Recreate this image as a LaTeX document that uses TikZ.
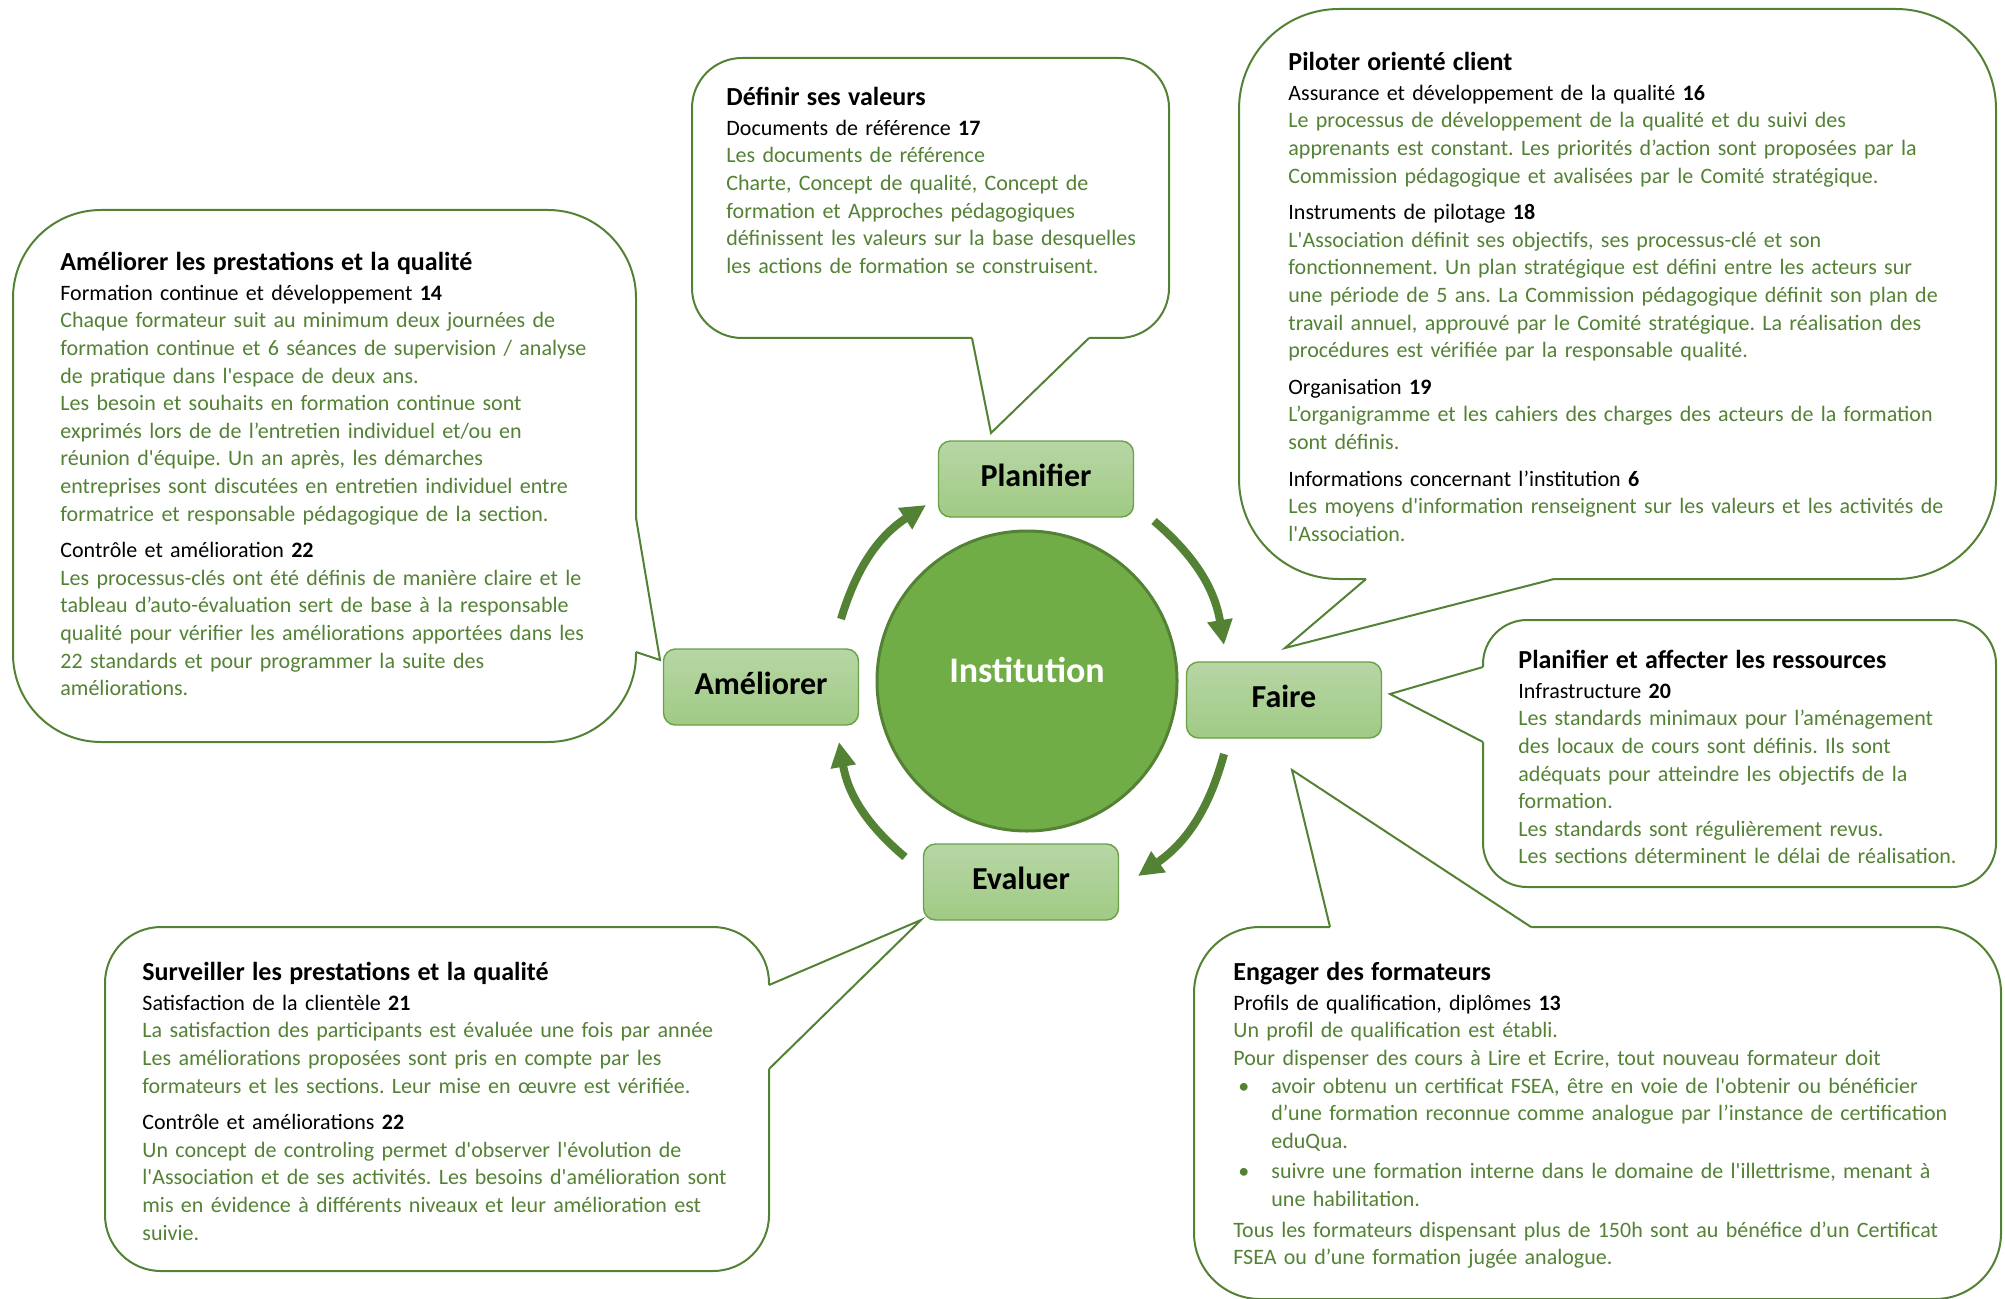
\documentclass[tikz,border=0pt]{standalone}
\usepackage{fontspec}
\setmainfont{Carlito}[Ligatures=TeXOff]
\usepackage{tikz}
\usetikzlibrary{positioning,arrows.meta}
\frenchspacing

\definecolor{vert}{RGB}{84,130,53}
\definecolor{vertclair}{RGB}{112,173,71}
\definecolor{boxtop}{RGB}{183,214,165}
\definecolor{boxbot}{RGB}{160,202,132}
\definecolor{boxline}{RGB}{106,160,72}

\newcommand{\titre}[1]{{\color{black}\fontsize{13}{15}\selectfont\bfseries #1}}
\newcommand{\rubrique}[2]{{\color{black}#1 \textbf{#2}}}

\begin{document}
\begin{tikzpicture}[x=0.5pt,y=-0.5pt,
	bulle/.style={draw=vert, line width=1pt, fill=white, anchor=north west, inner sep=0pt, outer sep=0pt},
	pointe/.style={draw=vert, line width=1pt, line join=miter},
	texte/.style={anchor=north west, inner sep=0pt, align=left, text width=#1, text=vert, font=\fontsize{11}{13.8}\selectfont},
	etape/.style={rectangle, rounded corners=6pt, draw=boxline, line width=0.7pt, top color=boxtop, bottom color=boxbot, minimum width=97.5pt, minimum height=38pt, text height=11.5pt, text depth=4pt, font=\fontsize{16}{19}\selectfont\bfseries},
	fleche/.style={draw=vert, line width=4pt, -{Triangle[length=12.5pt,width=12pt]}}]
\useasboundingbox (0,0) rectangle (2005,1299);

\node[bulle, rounded corners=25pt, minimum width=238.5pt, minimum height=140pt] (valeurs) at (692,58) {};
\coordinate (v1) at (972,338);
\coordinate (v2) at (1089,338);
\coordinate (vt) at (991,433);
\fill[white] (v1) -- (vt) -- (v2) -- ++(0,-4) -| (v1) -- cycle;
\draw[pointe] (v1) -- (vt) -- (v2);
\node[texte=225pt, below right=14.5pt and 17pt of valeurs.north west] (tvaleurs) {
	\titre{Définir ses valeurs}\\[1pt]
	\rubrique{Documents de référence}{17}\\
	Les documents de référence\\
	Charte, Concept de qualité, Concept de\\
	formation et Approches pédagogiques\\
	définissent les valeurs sur la base desquelles\\
	les actions de formation se construisent.};

\node[bulle, rounded corners=50pt, minimum width=378.5pt, minimum height=285pt] (pilot) at (1239,9) {};
\coordinate (c1) at (1366,579);
\coordinate (c2) at (1554,579);
\coordinate (ct) at (1285,648);
\fill[white] (c1) -- (ct) -- (c2) -- ++(0,-4) -| (c1) -- cycle;
\draw[pointe] (c1) -- (ct) -- (c2);
\node[texte=350pt, below right=21.5pt and 24.5pt of pilot.north west] (tpilot) {
	\titre{Piloter orienté client}\\[1pt]
	\rubrique{Assurance et développement de la qualité}{16}\\
	Le processus de développement de la qualité et du suivi des\\
	apprenants est constant. Les priorités d’action sont proposées par la\\
	Commission pédagogique et avalisées par le Comité stratégique.\\[4.5pt]
	\rubrique{Instruments de pilotage}{18}\\
	L'Association définit ses objectifs, ses processus-clé et son\\
	fonctionnement. Un plan stratégique est défini entre les acteurs sur\\
	une période de 5 ans. La Commission pédagogique définit son plan de\\
	travail annuel, approuvé par le Comité stratégique. La réalisation des\\
	procédures est vérifiée par la responsable qualité.\\[4.5pt]
	\rubrique{Organisation}{19}\\
	L’organigramme et les cahiers des charges des acteurs de la formation\\
	sont définis.\\[4.5pt]
	\rubrique{Informations concernant l’institution}{6}\\
	Les moyens d'information renseignent sur les valeurs et les activités de\\
	l'Association.};

\node[bulle, rounded corners=44pt, minimum width=311.5pt, minimum height=266pt] (amelq) at (13,210) {};
\coordinate (a1) at (636,518);
\coordinate (a2) at (636,652);
\coordinate (at) at (660,660);
\fill[white] (a1) -- (at) -- (a2) -- ++(-4,0) |- (a1) -- cycle;
\draw[pointe] (a1) -- (at) -- (a2);
\node[texte=285pt, below right=21pt and 23.5pt of amelq.north west] (tamelq) {
	\titre{Améliorer les prestations et la qualité}\\[1pt]
	\rubrique{Formation continue et développement}{14}\\
	Chaque formateur suit au minimum deux journées de\\
	formation continue et 6 séances de supervision / analyse\\
	de pratique dans l'espace de deux ans.\\
	Les besoin et souhaits en formation continue sont\\
	exprimés lors de de l’entretien individuel et/ou en\\
	réunion d'équipe. Un an après, les démarches\\
	entreprises sont discutées en entretien individuel entre\\
	formatrice et responsable pédagogique de la section.\\[4.5pt]
	\rubrique{Contrôle et amélioration}{22}\\
	Les processus-clés ont été définis de manière claire et le\\
	tableau d’auto-évaluation sert de base à la responsable\\
	qualité pour vérifier les améliorations apportées dans les\\
	22 standards et pour programmer la suite des\\
	améliorations.};

\node[bulle, rounded corners=22pt, minimum width=256.5pt, minimum height=133.5pt] (ress) at (1483,620) {};
\coordinate (r1) at (1483,667);
\coordinate (r2) at (1483,742);
\coordinate (rt) at (1390,694);
\fill[white] (r1) -- (rt) -- (r2) -- ++(4,0) |- (r1) -- cycle;
\draw[pointe] (r1) -- (rt) -- (r2);
\node[texte=240pt, below right=15pt and 17.5pt of ress.north west] (tress) {
	\titre{Planifier et affecter les ressources}\\[1pt]
	\rubrique{Infrastructure}{20}\\
	Les standards minimaux pour l’aménagement\\
	des locaux de cours sont définis. Ils sont\\
	adéquats pour atteindre les objectifs de la\\
	formation.\\
	Les standards sont régulièrement revus.\\
	Les sections déterminent le délai de réalisation.};

\node[bulle, rounded corners=33pt, minimum width=403.5pt, minimum height=186pt] (form) at (1194,927) {};
\coordinate (g1) at (1330,927);
\coordinate (g2) at (1531,927);
\coordinate (gt) at (1292,770);
\fill[white] (g1) -- (gt) -- (g2) -- ++(0,4) -| (g1) -- cycle;
\draw[pointe] (g1) -- (gt) -- (g2);
\node[texte=380pt, below right=17.5pt and 19.5pt of form.north west] (tform) {
	\titre{Engager des formateurs}\\[1pt]
	\rubrique{Profils de qualification, diplômes}{13}\\
	Un profil de qualification est établi.\\
	Pour dispenser des cours à Lire et Ecrire, tout nouveau formateur doit\\
	\hspace*{2.5pt}\makebox[16.5pt][l]{\textbullet}avoir obtenu un certificat FSEA, être en voie de l'obtenir ou bénéficier\\
	\hspace*{19pt}d’une formation reconnue comme analogue par l’instance de certification\\
	\hspace*{19pt}eduQua.\\[1.5pt]
	\hspace*{2.5pt}\makebox[16.5pt][l]{\textbullet}suivre une formation interne dans le domaine de l'illettrisme, menant à\\
	\hspace*{19pt}une habilitation.\\[1.5pt]
	Tous les formateurs dispensant plus de 150h sont au bénéfice d’un Certificat\\
	FSEA ou d’une formation jugée analogue.};

\node[bulle, rounded corners=28pt, minimum width=332pt, minimum height=172pt] (surv) at (105,927) {};
\coordinate (s1) at (769,985);
\coordinate (s2) at (769,1069);
\coordinate (st) at (921,920);
\fill[white] (s1) -- (st) -- (s2) -- ++(-4,0) |- (s1) -- cycle;
\draw[pointe] (s1) -- (st) -- (s2);
\node[texte=315pt, below right=17.5pt and 18.5pt of surv.north west] (tsurv) {
	\titre{Surveiller les prestations et la qualité}\\[1pt]
	\rubrique{Satisfaction de la clientèle}{21}\\
	La satisfaction des participants est évaluée une fois par année\\
	Les améliorations proposées sont pris en compte par les\\
	formateurs et les sections. Leur mise en œuvre est vérifiée.\\[4.5pt]
	\rubrique{Contrôle et améliorations}{22}\\
	Un concept de controling permet d'observer l'évolution de\\
	l'Association et de ses activités. Les besoins d'amélioration sont\\
	mis en évidence à différents niveaux et leur amélioration est\\
	suivie.};

\node[circle, draw=vert, line width=1.5pt, fill=vertclair, minimum size=150pt, inner sep=0pt] (inst) at (1027,681) {};
\node[text=white, font=\fontsize{18}{22}\selectfont\bfseries] (tinst) at (1027,670) {Institution};

\node[etape] (plan) at (1036,479) {Planifier};
\node[etape] (faire) at (1284,700) {Faire};
\node[etape] (eval) at (1021,882) {Evaluer};
\node[etape] (amel) at (761,687) {Améliorer};

\coordinate (p1) at (1154,521);
\coordinate (f0) at (1224,645);
\coordinate (f1) at (1224,754);
\coordinate (e0) at (1138,876);
\coordinate (e1) at (905,857);
\coordinate (a0) at (839,742);
\coordinate (a1) at (841,619);
\coordinate (p0) at (926,505);
\draw[fleche] (p1) to[bend left=20] (f0);
\draw[fleche] (f1) to[bend left=20] (e0);
\draw[fleche] (e1) to[bend left=20] (a0);
\draw[fleche] (a1) to[bend left=20] (p0);
\end{tikzpicture}
\end{document}
